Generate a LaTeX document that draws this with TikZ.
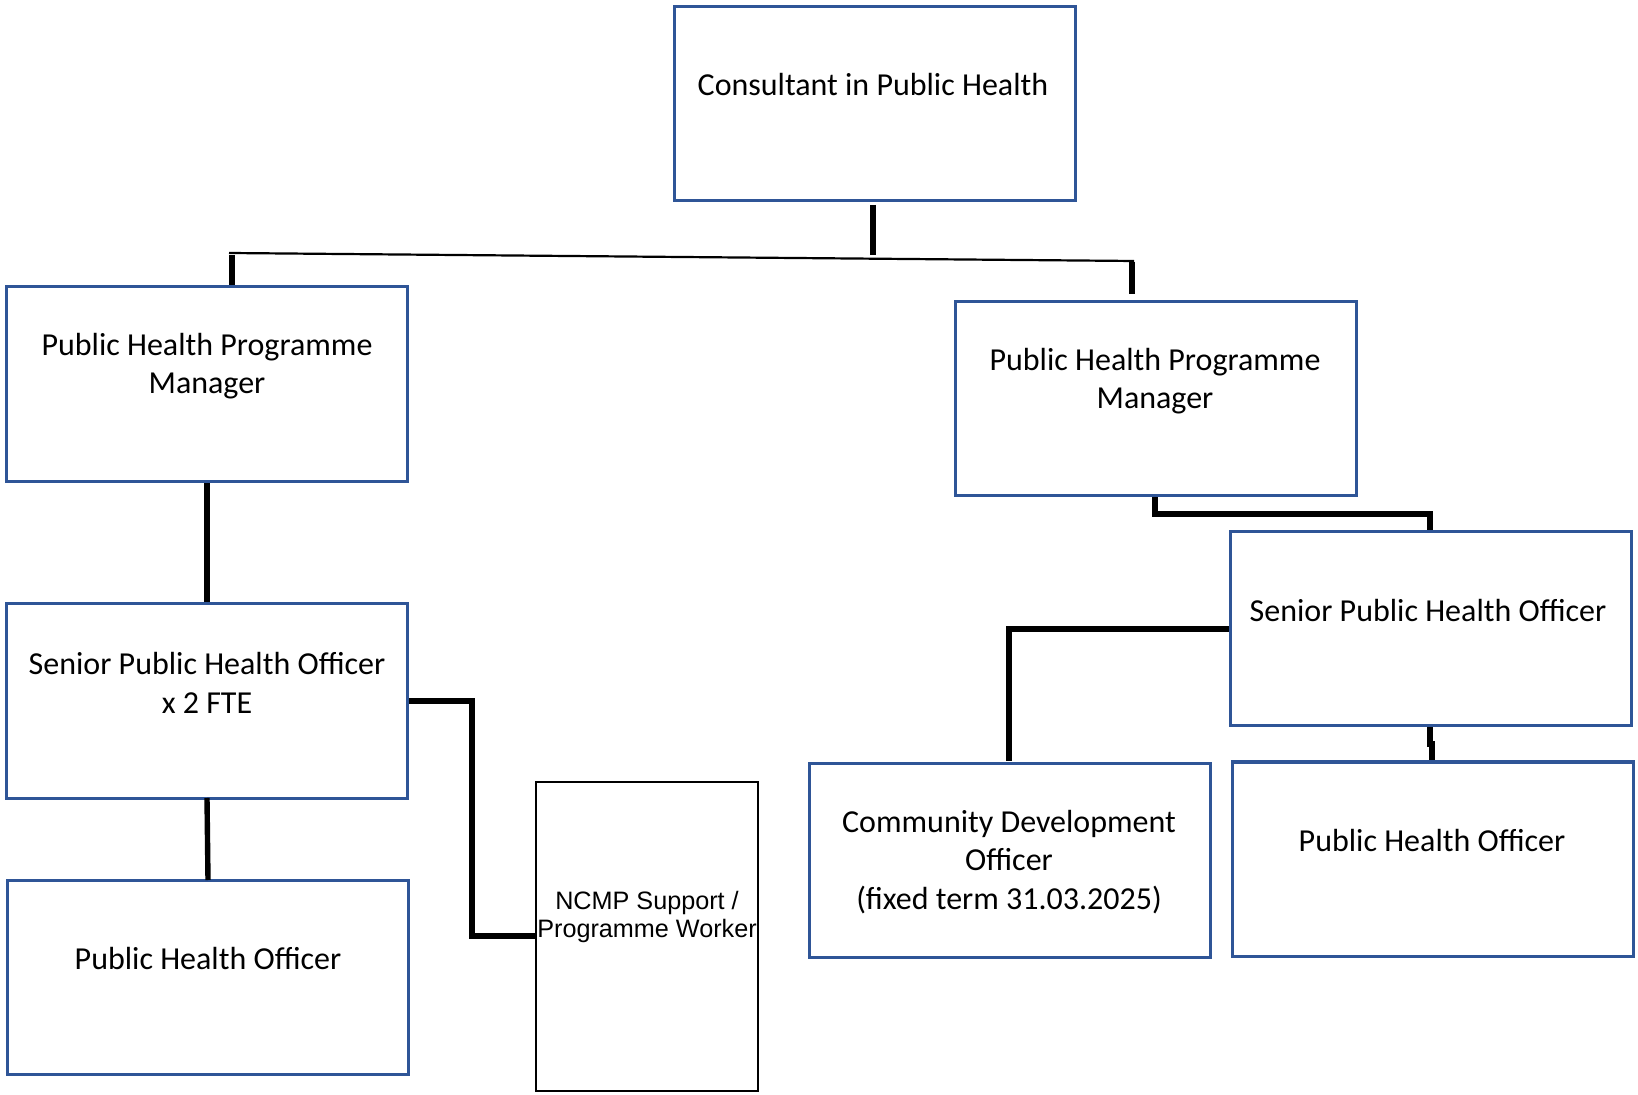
\documentclass[tikz,border=0pt]{standalone}
\usepackage{fontspec}
\setmainfont{Carlito}
\newfontfamily\arialf{Liberation Sans}
\usetikzlibrary{fit}
\definecolor{boxblue}{HTML}{2F5597}
\tikzset{
  bluebox/.style={draw=boxblue, line width=1.5pt, inner sep=0pt, rectangle},
  blackbox/.style={draw=black, line width=0.8pt, inner sep=0pt, rectangle},
  lbl/.style={align=center, inner sep=0pt, font=\fontsize{16}{19.3}\selectfont},
  nlbl/.style={align=center, inner sep=0pt, font=\arialf\fontsize{12.6}{13.6}\selectfont},
  conn/.style={draw=black, line width=2.7pt},
  thinconn/.style={draw=black, line width=1.1pt},
}
\begin{document}
\begin{tikzpicture}[x=0.5pt, y=-0.5pt]
\useasboundingbox (0,0) rectangle (1638,1095);
% boxes
\node[bluebox, fit={(674,7) (1075,201)}] (cons) {};
\node[bluebox, fit={(6,287) (407,482)}] (pmL) {};
\node[bluebox, fit={(955,302) (1356,496)}] (pmR) {};
\node[bluebox, fit={(6,604) (407,798)}] (spL) {};
\node[bluebox, fit={(7,880) (408,1074)}] (phL) {};
\node[blackbox, fit={(536,782) (758,1091)}] (ncmp) {};
\node[bluebox, fit={(1230,532) (1631,726)}] (spR) {};
\node[bluebox, fit={(809,763) (1210,957)}] (cdo) {};
\node[bluebox, fit={(1232,762) (1633,956)}] (phR) {};
% labels
\node[lbl] (tcons) at (873,85) {Consultant in Public Health};
\node[lbl] (tpmL) at (207,366) {Public Health Programme\\Manager};
\node[lbl] (tpmR) at (1155,381) {Public Health Programme\\Manager};
\node[lbl] (tspL) at (207,683) {Senior Public Health Officer\\x 2 FTE};
\node[lbl] (tphL) at (208,959) {Public Health Officer};
\node[nlbl] (tncmp) at (647,917) {NCMP Support /\\Programme Worker};
\node[lbl] (tspR) at (1428,611) {Senior Public Health Officer};
\node[lbl] (tcdo) at (1009,862) {Community Development\\Officer\\(fixed term 31.03.2025)};
\node[lbl] (tphR) at (1432,841) {Public Health Officer};
% connector coordinates
\coordinate (c1) at (873,205);
\coordinate (c2) at (873,255);
\coordinate (hL) at (229,253);
\coordinate (hR) at (1134,261);
\coordinate (dL) at (232,255);
\coordinate (dR) at (1132,262);
\coordinate (dRe) at (1132,294);
% connectors
\draw[conn] (c1) -- (c2);
\draw[thinconn] (hL) -- (hR);
\draw[conn] (dL) -- (dL |- pmL.north);
\draw[conn] (dR) -- (dRe);
\draw[conn] (pmL.south -| 207,0) -- (spL.north -| 207,0);
\draw[conn] (207,798) -- (208,880);
\draw[conn] (spL.east |- 0,701) -| (472,936) -- (ncmp.west |- 0,936);
\draw[conn] (pmR.south -| 1155,0) -- (1155,514) -| (spR.north -| 1430,0);
\draw[conn] (spR.west |- 0,629) -| (cdo.north -| 1009,0);
\draw[conn] (spR.south -| 1430,0) -- (1430,744) -- (1432,744) -- (phR.north -| 1432,0);
\end{tikzpicture}
\end{document}
